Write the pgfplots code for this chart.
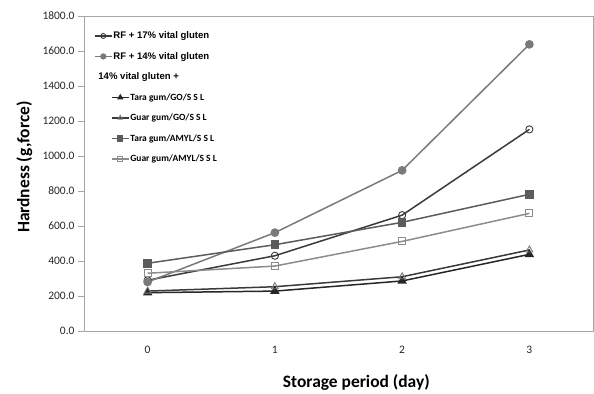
\documentclass[border=0pt]{standalone}
\usepackage{fontspec}
\setmainfont{Carlito}
\newfontfamily\arialf{Liberation Sans}
\usepackage{pgfplots}
\pgfplotsset{compat=1.18}
\definecolor{cdark}{HTML}{3A3A3A}
\definecolor{cmid}{HTML}{7A7A7A}
\definecolor{cblack}{HTML}{262626}
\definecolor{csq}{HTML}{5C5C5C}
\definecolor{clight}{HTML}{8C8C8C}
\definecolor{cframe}{HTML}{A6A6A6}
\pgfplotsset{
  mainleg/.style={legend image code/.code={\draw[mark repeat=2,mark phase=2,##1,mark size=2.5bp,line width=1.2bp] plot coordinates {(0bp,0bp)(8.5bp,0bp)(17bp,0bp)};}},
  indleg/.style={legend image code/.code={\draw[mark repeat=2,mark phase=2,##1,mark size=2.5bp,line width=1.2bp] plot coordinates {(17bp,0bp)(25.5bp,0bp)(34bp,0bp)};}},
}
\begin{document}
\begin{tikzpicture}
\begin{axis}[name=ax,
  scale only axis, width=509bp, height=315bp,
  xmin=-0.5, xmax=3.5, ymin=0, ymax=1800,
  xtick={0,1,2,3}, ytick={0,200,...,1800},
  axis line style={draw=cframe, line width=0.8bp},
  xtick style={draw=none},
  ytick style={draw=cframe, line width=0.8bp},
  tick align=outside, major tick length=6bp,
  ytick pos=left,
  /pgf/number format/assume math mode=true,
  yticklabel style={font=\fontsize{11.5}{13}\selectfont, text=black!85,
    /pgf/number format/.cd, fixed, fixed zerofill, precision=1, 1000 sep={}},
  xticklabel style={font=\fontsize{11.5}{13}\selectfont, text=black!85, yshift=-6bp},
  ylabel={\bfseries Hardness (g,force)},
  xlabel={\bfseries Storage period (day)},
  every axis y label/.style={at={(axis description cs:-0.117,0.52)}, rotate=90, anchor=center, font=\fontsize{17.5}{20}\selectfont},
  every axis x label/.style={at={(axis description cs:0.535,-0.162)}, anchor=center, font=\fontsize{17.5}{20}\selectfont},
  legend style={at={(axis description cs:0,1)}, anchor=north west, xshift=10bp, yshift=-14bp,
    draw=none, fill=none, inner sep=0pt, row sep=9bp,
    nodes={inner sep=1bp, text height=7.5bp, text depth=2bp}},
  legend cell align=left,
]
\addplot[cdark, line width=1.5bp, mark=o, mark size=3.6bp, mark options={fill=white, draw=cdark, line width=0.9bp}, mainleg]
  coordinates {(0,290)(1,430)(2,662)(3,1152)};
\addlegendentry{\hspace*{-17bp}\arialf\bfseries\fontsize{9.6}{11}\selectfont RF + 17\% vital gluten}
\addplot[cmid, line width=1.5bp, mark=*, mark size=3.6bp, mark options={fill=cmid, draw=cmid}, mainleg]
  coordinates {(0,280)(1,562)(2,918)(3,1638)};
\addlegendentry{\hspace*{-17bp}\arialf\bfseries\fontsize{9.6}{11}\selectfont RF + 14\% vital gluten}
\addlegendimage{empty legend}
\addlegendentry{\hspace*{-32bp}\arialf\bfseries\fontsize{9.6}{11}\selectfont 14\% vital gluten +}
\addplot[cblack, line width=1.5bp, mark=triangle*, mark size=4bp, mark options={fill=cblack, draw=cblack}, indleg]
  coordinates {(0,219)(1,228)(2,286)(3,438)};
\addlegendentry{\bfseries\fontsize{9.5}{11}\selectfont Tara gum/GO/S S L}
\addplot[cdark, line width=1.5bp, mark=triangle, mark size=4bp, mark options={fill=white, draw=cmid, line width=0.9bp}, indleg]
  coordinates {(0,228)(1,253)(2,310)(3,463)};
\addlegendentry{\bfseries\fontsize{9.5}{11}\selectfont Guar gum/GO/S S L}
\addplot[csq, line width=1.5bp, mark=square*, mark size=3.5bp, mark options={fill=csq, draw=csq}, indleg]
  coordinates {(0,387)(1,493)(2,621)(3,781)};
\addlegendentry{\bfseries\fontsize{9.5}{11}\selectfont Tara gum/AMYL/S S L}
\addplot[clight, line width=1.5bp, mark=square, mark size=3.5bp, mark options={fill=white, draw=clight, line width=0.9bp}, indleg]
  coordinates {(0,330)(1,371)(2,512)(3,672)};
\addlegendentry{\bfseries\fontsize{9.5}{11}\selectfont Guar gum/AMYL/S S L}
\end{axis}
\path (ax.south west) ++(-84bp,-61bp) (ax.north east) ++(1bp,16bp);
\end{tikzpicture}
\end{document}
